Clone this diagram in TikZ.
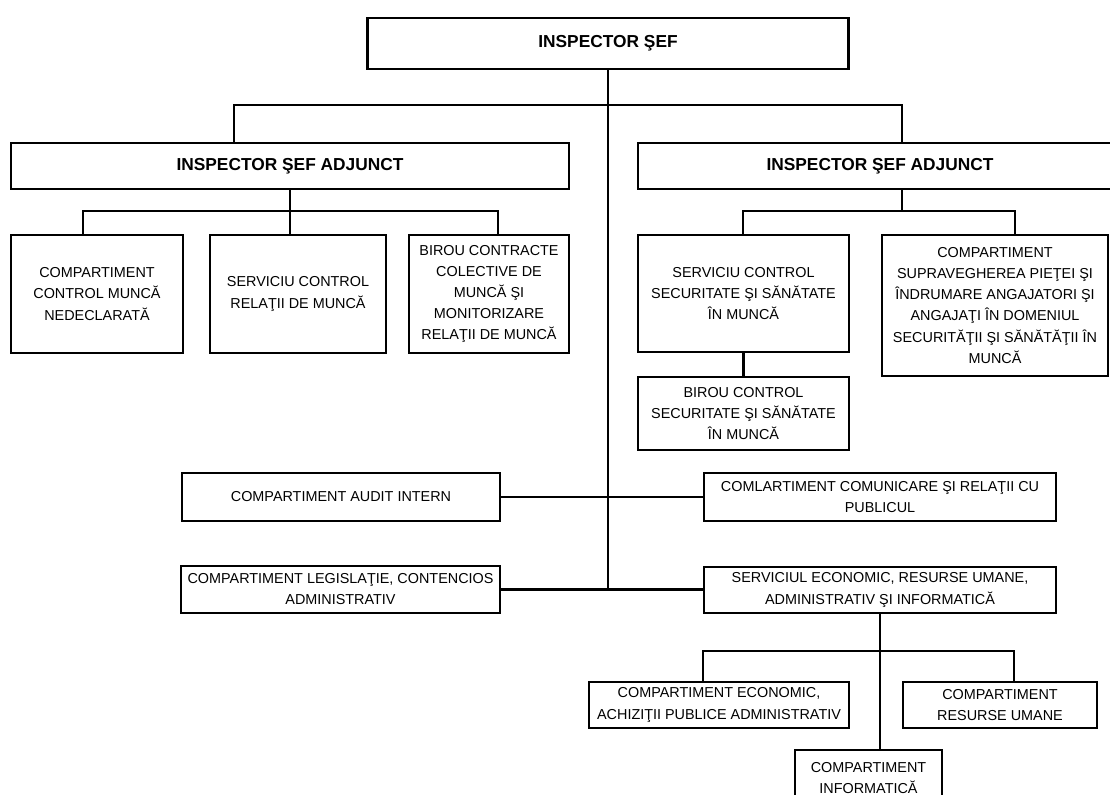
\documentclass[tikz,border=0pt]{standalone}
\usepackage{fontspec}
\setmainfont{Liberation Sans}
\begin{document}
\begin{tikzpicture}[x=0.75pt,y=-0.75pt,
  box/.style={draw, line width=2.2pt, align=center, inner sep=0pt, fill=white,
    font=\fontsize{10.8}{15.8}\selectfont},
  boldbox/.style={box, font=\bfseries\fontsize{13}{16}\selectfont},
  conn/.style={line width=1.6pt}]
\useasboundingbox (0,0) rectangle (1110,795);
\clip (0,0) rectangle (1110,795);
\fill[white] (0,0) rectangle (1110,795);

% nodes
\node[boldbox, minimum width=360.75pt, minimum height=38.25pt] (top) at (608,43.5) {INSPECTOR ŞEF};
\node[boldbox, minimum width=418.5pt, minimum height=34.5pt] (isaL) at (290,166) {INSPECTOR ŞEF ADJUNCT};
\node[boldbox, minimum width=363pt, minimum height=34.5pt] (isaR) at (880,166) {INSPECTOR ŞEF ADJUNCT};

\node[box, minimum width=129pt, minimum height=88.5pt] (c1) at (97,294) {COMPARTIMENT\\CONTROL MUNCĂ\\NEDECLARATĂ};
\node[box, minimum width=132pt, minimum height=88.5pt] (c2) at (298,294) {SERVICIU CONTROL\\RELAŢII DE MUNCĂ};
\node[box, minimum width=120pt, minimum height=88.5pt] (c3) at (489,294) {BIROU CONTRACTE\\COLECTIVE DE\\MUNCĂ ŞI\\MONITORIZARE\\RELAŢII DE MUNCĂ};

\node[box, minimum width=158.25pt, minimum height=87.75pt] (scssm) at (743.5,293.5) {SERVICIU CONTROL\\SECURITATE ŞI SĂNĂTATE\\ÎN MUNCĂ};
\node[box, minimum width=169.5pt, minimum height=105.75pt] (csp) at (995,305.5) {COMPARTIMENT\\SUPRAVEGHEREA PIEŢEI ŞI\\ÎNDRUMARE ANGAJATORI ŞI\\ANGAJAŢI ÎN DOMENIUL\\SECURITĂŢII ŞI SĂNĂTĂŢII ÎN\\MUNCĂ};
\node[box, minimum width=158.25pt, minimum height=54.75pt] (bcssm) at (743.5,413.5) {BIROU CONTROL\\SECURITATE ŞI SĂNĂTATE\\ÎN MUNCĂ};

\node[box, minimum width=238.5pt, minimum height=36pt] (audit) at (341,497) {COMPARTIMENT AUDIT INTERN};
\node[box, minimum width=264pt, minimum height=36pt] (comm) at (880,497) {COMLARTIMENT COMUNICARE ŞI RELAŢII CU\\PUBLICUL};
\node[box, minimum width=239.25pt, minimum height=35.25pt] (legis) at (340.5,589.5) {COMPARTIMENT LEGISLAŢIE, CONTENCIOS\\ADMINISTRATIV};
\node[box, minimum width=264pt, minimum height=34.5pt] (sea) at (880,590) {SERVICIUL ECONOMIC, RESURSE UMANE,\\ADMINISTRATIV ŞI INFORMATICĂ};

\node[box, minimum width=195pt, minimum height=34.5pt] (cea) at (719,705) {COMPARTIMENT ECONOMIC,\\ACHIZIŢII PUBLICE ADMINISTRATIV};
\node[box, minimum width=145.5pt, minimum height=34.5pt] (cru) at (1000,705) {COMPARTIMENT\\RESURSE UMANE};
\node[box, minimum width=110.25pt, minimum height=42pt] (ci) at (868.5,778) {COMPARTIMENT\\INFORMATICĂ};

% bus coordinates
\coordinate (b1L) at (234,105);
\coordinate (b1R) at (902,105);
\coordinate (b2L) at (83,211);
\coordinate (b2R) at (498,211);
\coordinate (b3L) at (743,211);
\coordinate (b3M) at (902,211);
\coordinate (b3R) at (1015,211);
\coordinate (b4L) at (703,651);
\coordinate (b4R) at (1014,651);

% connectors
\draw[conn] (top.south) -- (top.south |- legis.east);
\draw[conn] (isaL.north -| b1L) -- (b1L) -- (b1R) -- (isaR.north -| b1R);
\draw[conn] (isaL.south) -- (isaL.south |- c2.north);
\draw[conn] (c1.north -| b2L) -- (b2L) -- (b2R) -- (c3.north -| b2R);
\draw[conn] (isaR.south -| b3M) -- (b3M);
\draw[conn] (scssm.north -| b3L) -- (b3L) -- (b3R) -- (csp.north -| b3R);
\draw[conn] (scssm.south) -- (bcssm.north);
\draw[conn] (audit.east) -- (audit.east -| comm.west);
\draw[conn] (legis.east) -- (legis.east -| sea.west);
\draw[conn] (sea.south) -- (sea.south |- ci.north);
\draw[conn] (cea.north -| b4L) -- (b4L) -- (b4R) -- (cru.north -| b4R);
\end{tikzpicture}
\end{document}
